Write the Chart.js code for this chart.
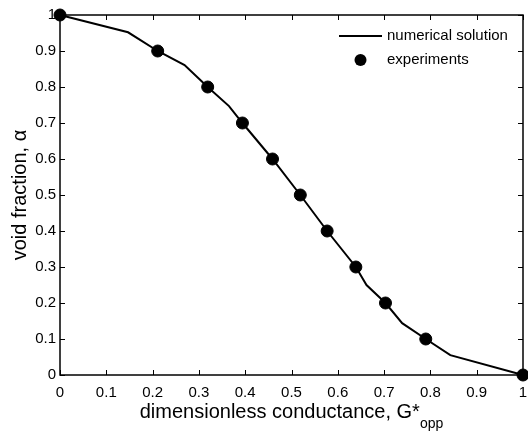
<!DOCTYPE html>
<html>
<head>
<meta charset="utf-8">
<script src="https://cdn.jsdelivr.net/npm/chart.js@4"></script>
<style>
    html, body { margin: 0; padding: 0; background: #fff; }
    #wrap { width: 528px; height: 433px; }
</style>
</head>
<body>
<div id="wrap"><canvas id="voidChart" width="528" height="433"></canvas></div>
<script>
// numerical solution (line)
const simG = [0, 0.147, 0.211, 0.269, 0.319, 0.365, 0.394, 0.459, 0.519, 0.577, 0.639, 0.662, 0.703, 0.739, 0.790, 0.843, 1];
const simAlpha = [1, 0.952, 0.9, 0.861, 0.8, 0.747, 0.7, 0.6, 0.5, 0.4, 0.3, 0.25, 0.2, 0.144, 0.1, 0.055, 0];

// experiments (markers)
const expG = [0, 0.211, 0.319, 0.394, 0.459, 0.519, 0.577, 0.639, 0.703, 0.790, 1];
const expAlpha = [1, 0.9, 0.8, 0.7, 0.6, 0.5, 0.4, 0.3, 0.2, 0.1, 0];

const tickValues = [0, 0.1, 0.2, 0.3, 0.4, 0.5, 0.6, 0.7, 0.8, 0.9, 1];

const FONT = "'Liberation Sans', Arial, sans-serif";

const toPoints = (xs, ys) => xs.map((x, i) => ({x: x, y: ys[i]}));

// box, inward ticks, titles and legend, MATLAB style
const matlabLook = {
    id: 'matlabLook',
    afterDraw(chart) {
        const ctx = chart.ctx;
        const area = chart.chartArea;
        const xs = chart.scales.x;
        const ys = chart.scales.y;
        const tick = 5;

        ctx.save();
        ctx.strokeStyle = '#000';
        ctx.lineWidth = 1.5;
        ctx.strokeRect(area.left, area.top, area.right - area.left, area.bottom - area.top);

        ctx.lineWidth = 1;
        ctx.beginPath();
        tickValues.forEach(v => {
            const px = Math.round(xs.getPixelForValue(v)) + 0.5;
            ctx.moveTo(px, area.bottom);
            ctx.lineTo(px, area.bottom - tick);
            ctx.moveTo(px, area.top);
            ctx.lineTo(px, area.top + tick);
            const py = Math.round(ys.getPixelForValue(v)) + 0.5;
            ctx.moveTo(area.left, py);
            ctx.lineTo(area.left + tick, py);
            ctx.moveTo(area.right, py);
            ctx.lineTo(area.right - tick, py);
        });
        ctx.stroke();

        // x title with subscript
        ctx.fillStyle = '#000';
        ctx.textBaseline = 'alphabetic';
        ctx.textAlign = 'left';
        const main = 'dimensionless conductance, G*';
        const sub = 'opp';
        ctx.font = '20px ' + FONT;
        const wMain = ctx.measureText(main).width;
        ctx.font = '14px ' + FONT;
        const wSub = ctx.measureText(sub).width;
        const cx = (area.left + area.right) / 2;
        const startX = cx - (wMain + wSub) / 2;
        ctx.font = '20px ' + FONT;
        ctx.fillText(main, startX, 418);
        ctx.font = '14px ' + FONT;
        ctx.fillText(sub, startX + wMain, 428);

        // y title
        ctx.save();
        ctx.translate(26, (area.top + area.bottom) / 2);
        ctx.rotate(-Math.PI / 2);
        ctx.textAlign = 'center';
        ctx.font = '20px ' + FONT;
        ctx.fillText('void fraction, \u03b1', 0, 0);
        ctx.restore();

        // legend
        const sets = chart.data.datasets;
        const lx1 = area.right - 184, lx2 = area.right - 141, tx = area.right - 136;
        const ly1 = area.top + 21, ly2 = area.top + 45;
        ctx.font = '15px ' + FONT;
        ctx.textBaseline = 'middle';
        ctx.textAlign = 'left';
        ctx.lineWidth = 2;
        ctx.beginPath();
        ctx.moveTo(lx1, ly1);
        ctx.lineTo(lx2, ly1);
        ctx.stroke();
        ctx.fillText(sets[0].label, tx, ly1);
        ctx.beginPath();
        ctx.arc((lx1 + lx2) / 2, ly2, 6, 0, Math.PI * 2);
        ctx.fill();
        ctx.fillText(sets[1].label, tx, ly2);
        ctx.restore();
    }
};

new Chart(document.getElementById('voidChart'), {
    type: 'scatter',
    data: {
        datasets: [
            {
                label: 'numerical solution',
                data: toPoints(simG, simAlpha),
                showLine: true,
                borderColor: '#000',
                borderWidth: 2,
                pointRadius: 0,
                tension: 0,
                order: 2
            },
            {
                label: 'experiments',
                data: toPoints(expG, expAlpha),
                showLine: false,
                backgroundColor: '#000',
                borderColor: '#000',
                pointRadius: 6,
                pointHoverRadius: 6,
                order: 1
            }
        ]
    },
    options: {
        responsive: false,
        animation: false,
        events: [],
        layout: {
            autoPadding: false,
            padding: {top: 15, right: 5, left: 0, bottom: 0}
        },
        plugins: {
            legend: {display: false},
            tooltip: {enabled: false}
        },
        scales: {
            x: {
                type: 'linear',
                min: 0,
                max: 1,
                afterFit(scale) {
                    scale.height = 58;
                    scale.paddingLeft = 0;
                    scale.paddingRight = 0;
                },
                afterBuildTicks(scale) { scale.ticks = tickValues.map(v => ({value: v})); },
                grid: {display: false, drawTicks: false},
                border: {display: false},
                ticks: {
                    color: '#000',
                    padding: 9,
                    maxRotation: 0,
                    autoSkip: false,
                    font: {family: FONT, size: 15},
                    callback: v => String(Math.round(v * 10) / 10)
                }
            },
            y: {
                type: 'linear',
                min: 0,
                max: 1,
                afterFit(scale) {
                    scale.width = 60;
                    scale.paddingTop = 0;
                    scale.paddingBottom = 0;
                },
                afterBuildTicks(scale) { scale.ticks = tickValues.map(v => ({value: v})); },
                grid: {display: false, drawTicks: false},
                border: {display: false},
                ticks: {
                    color: '#000',
                    padding: 4,
                    autoSkip: false,
                    font: {family: FONT, size: 15},
                    callback: v => String(Math.round(v * 10) / 10)
                }
            }
        },
        clip: false
    },
    plugins: [matlabLook]
});
</script>
</body>
</html>
